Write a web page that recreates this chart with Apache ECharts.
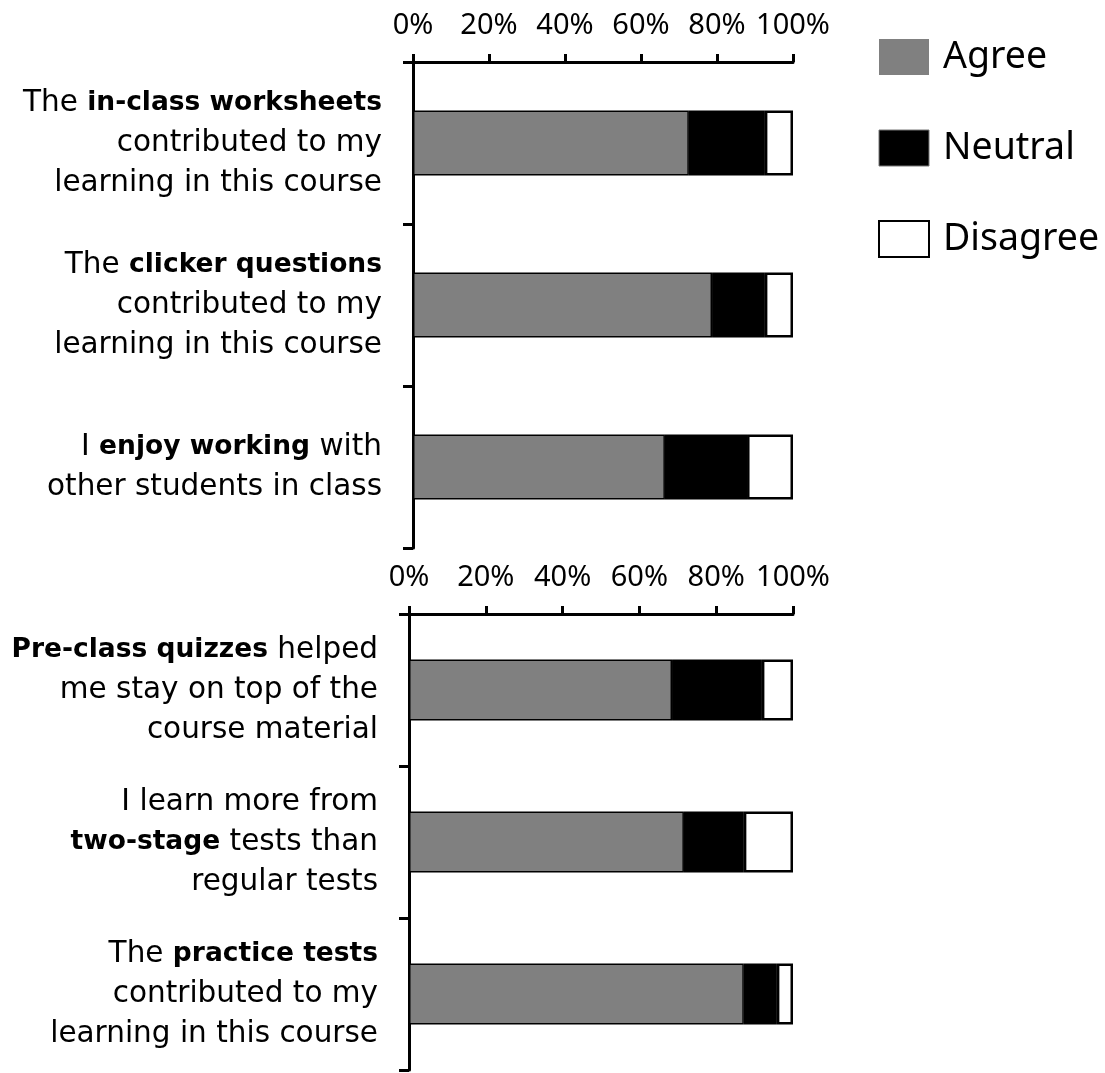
<!DOCTYPE html>
<html>
<head>
<meta charset="utf-8">
<script src="https://cdn.jsdelivr.net/npm/echarts@6/dist/echarts.min.js"></script>
<style>
  html, body { margin: 0; padding: 0; background: #fff; }
  #chart { width: 1105px; height: 1073px; }
</style>
</head>
<body>
<div id="chart"></div>
<script>
// 题目标签（带粗体标记）
const topLabels = [
    '{r|The }{b|in-class worksheets}\n{r|contributed to my}\n{r|learning in this course}',
    '{r|The }{b|clicker questions}\n{r|contributed to my}\n{r|learning in this course}',
    '{r|I }{b|enjoy working}{r| with}\n{r|other students in class}'
];
const bottomLabels = [
    '{b|Pre-class quizzes}{r| helped}\n{r|me stay on top of the}\n{r|course material}',
    '{r|I learn more from}\n{b|two-stage}{r| tests than}\n{r|regular tests}',
    '{r|The }{b|practice tests}\n{r|contributed to my}\n{r|learning in this course}'
];

// 百分比数据
const topAgree = [72.6, 78.7, 66.3];
const topNeutral = [20.0, 13.9, 21.6];
const topDisagree = [7.4, 7.4, 12.1];

const bottomAgree = [68.5, 71.6, 87.2];
const bottomNeutral = [23.4, 15.6, 8.6];
const bottomDisagree = [8.1, 12.8, 4.2];

const tickValues = [0, 20, 40, 60, 80, 100];

const chart = echarts.init(document.getElementById('chart'));

const richStyle = {
    r: { fontFamily: 'DejaVu Sans', fontSize: 29.5, color: '#000', lineHeight: 40 },
    b: { fontFamily: 'DejaVu Sans', fontWeight: 'bold', fontSize: 26.5, color: '#000', lineHeight: 40 }
};

function makeXAxis(gridIndex) {
    return {
        gridIndex: gridIndex,
        type: 'value',
        position: 'top',
        min: tickValues[0],
        max: tickValues[tickValues.length - 1],
        interval: 20,
        axisLine: { show: true, lineStyle: { color: '#000', width: 3 } },
        axisTick: { show: true, length: 8, lineStyle: { color: '#000', width: 3 } },
        axisLabel: {
            formatter: '{value}%',
            margin: 22,
            fontFamily: 'Noto Sans',
            fontSize: 29,
            color: '#000'
        },
        splitLine: { show: false }
    };
}

function makeYAxis(gridIndex, labels) {
    return {
        gridIndex: gridIndex,
        type: 'category',
        inverse: true,
        data: labels,
        axisLine: { show: true, lineStyle: { color: '#000', width: 3 } },
        axisTick: { show: true, length: 10, lineStyle: { color: '#000', width: 3 } },
        axisLabel: {
            margin: 31,
            align: 'right',
            rich: richStyle
        }
    };
}

function makeSeries(name, data, color, idx, borderWidth) {
    return {
        name: name,
        type: 'bar',
        stack: 'total' + idx,
        xAxisIndex: idx,
        yAxisIndex: idx,
        barWidth: '40%',
        data: data,
        itemStyle: { color: color, borderColor: '#000', borderWidth: borderWidth },
        emphasis: { disabled: true }
    };
}

const option = {
    animation: false,
    backgroundColor: '#fff',
    legend: {
        orient: 'vertical',
        left: 873,
        top: 33,
        icon: 'rect',
        itemWidth: 50,
        itemHeight: 36,
        itemGap: 53,
        data: [
            { name: 'Agree', itemStyle: { borderWidth: 0 } },
            { name: 'Neutral', itemStyle: { borderColor: '#777', borderWidth: 1 } },
            { name: 'Disagree', itemStyle: { borderWidth: 2 } }
        ],
        textStyle: {
            fontFamily: 'Noto Sans',
            fontSize: 37.5,
            color: '#000',
            padding: [0, 0, 0, 9]
        }
    },
    grid: [
        { left: 413, top: 62, width: 380, height: 486 },
        { left: 409, top: 614, width: 384, height: 456 }
    ],
    xAxis: [makeXAxis(0), makeXAxis(1)],
    yAxis: [makeYAxis(0, topLabels), makeYAxis(1, bottomLabels)],
    series: [
        makeSeries('Agree', topAgree, '#808080', 0, 1.5),
        makeSeries('Neutral', topNeutral, '#000000', 0, 1.5),
        makeSeries('Disagree', topDisagree, '#ffffff', 0, 2.5),
        makeSeries('Agree', bottomAgree, '#808080', 1, 1.5),
        makeSeries('Neutral', bottomNeutral, '#000000', 1, 1.5),
        makeSeries('Disagree', bottomDisagree, '#ffffff', 1, 2.5)
    ]
};

chart.setOption(option);
</script>
</body>
</html>
